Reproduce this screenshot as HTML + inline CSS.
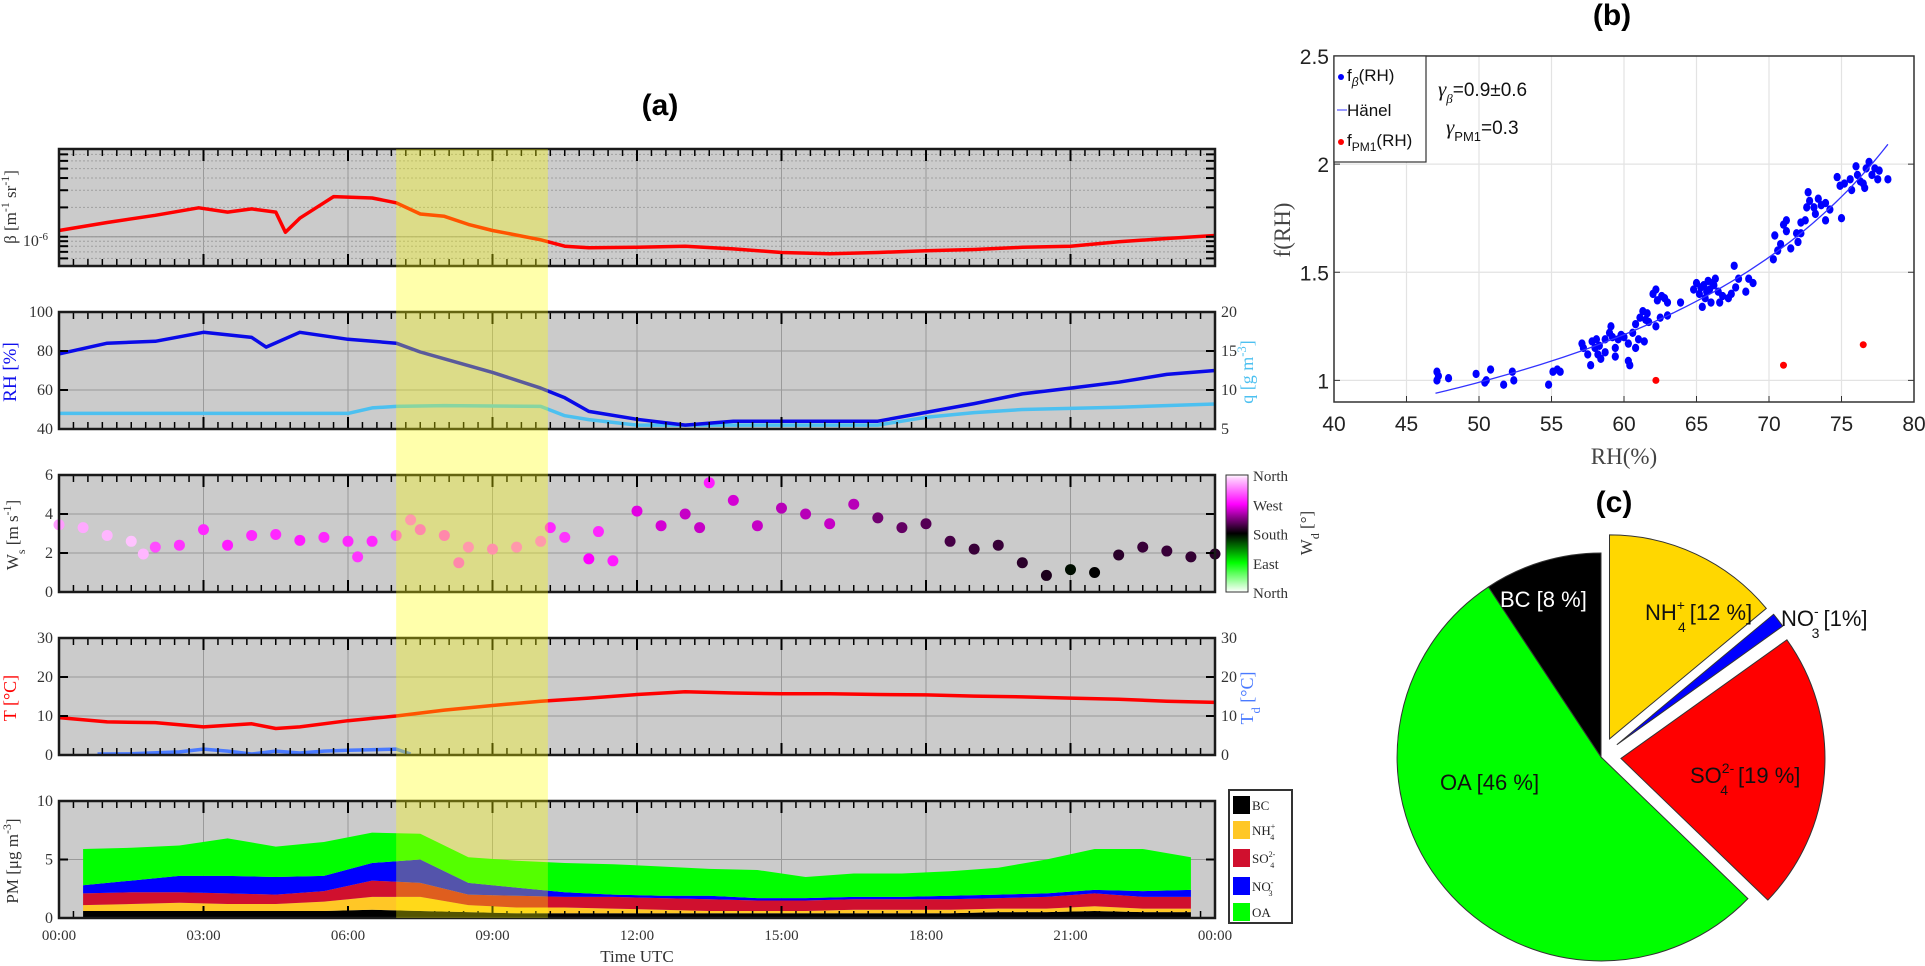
<!DOCTYPE html>
<html><head><meta charset="utf-8"><style>
html,body{margin:0;padding:0;background:#fff;}
svg{display:block;}
.serif{font-family:"Liberation Serif",serif;}
.sans{font-family:"Liberation Sans",sans-serif;}
</style></head><body>
<svg id="fig" width="1925" height="966" viewBox="0 0 1925 966" xmlns="http://www.w3.org/2000/svg">
<text x="660" y="115" text-anchor="middle" class="sans" font-weight="bold" font-size="30">(a)</text>
<text x="1612" y="25" text-anchor="middle" class="sans" font-weight="bold" font-size="30">(b)</text>
<text x="1614" y="512" text-anchor="middle" class="sans" font-weight="bold" font-size="30">(c)</text>
<g id="ga"></g>
<g id="gb"></g>
<g id="gc"></g>
</svg>
<script>
// ---- Panel (a) data ----
const betaHours=[0,1,2,2.9,3.5,4,4.5,4.7,5,5.5,5.7,6.5,7,7.5,8,8.5,9,9.5,10,10.5,11,12,13,14,15,16,17,18,19,20,21,22,23,24];
const betaVals=[1.16,1.40,1.66,1.98,1.79,1.93,1.79,1.11,1.55,2.23,2.58,2.50,2.23,1.71,1.62,1.34,1.16,1.04,0.93,0.80,0.77,0.78,0.80,0.75,0.69,0.67,0.69,0.72,0.74,0.78,0.80,0.89,0.96,1.03];
const rhHours=[0,1,2,3,4,4.3,5,6,7,7.5,8,9,10,10.5,11,12,13,14,15,16,17,18,19,20,21,22,23,24];
const rhVals=[78.5,84,85,89.6,87,82,89.6,86,84,79.5,76,69,61,56,49,45,42,44,44,44,44,48.5,53,58,61,64,68,70];
const qHours=[0,2,4,6,6.5,7,8,10,10.5,11,12,14,17,18,19,20,22,24];
const qVals=[7.0,7.0,7.0,7.0,7.7,7.9,8.0,7.9,6.7,6.2,5.5,5.5,5.5,6.5,7.1,7.5,7.8,8.2];
const wsHours=[0,0.5,1,1.5,1.75,2,2.5,3,3.5,4,4.5,5,5.5,6,6.2,6.5,7,7.3,7.5,8,8.3,8.5,9,9.5,10,10.2,10.5,11,11.2,11.5,12,12.5,13,13.3,13.5,14,14.5,15,15.5,16,16.5,17,17.5,18,18.5,19,19.5,20,20.5,21,21.5,22,22.5,23,23.5,24];
const wsVals=[3.45,3.3,2.9,2.6,1.95,2.3,2.4,3.2,2.4,2.9,2.95,2.65,2.8,2.6,1.8,2.6,2.9,3.7,3.2,2.9,1.5,2.3,2.2,2.3,2.6,3.3,2.8,1.7,3.1,1.6,4.15,3.4,4.0,3.3,5.6,4.7,3.4,4.3,4.0,3.5,4.5,3.8,3.3,3.5,2.6,2.2,2.4,1.5,0.85,1.15,1.0,1.9,2.3,2.1,1.8,1.95];
const wdVals=[330,335,340,345,340,300,290,285,280,285,285,280,285,285,290,285,300,310,300,300,300,310,305,310,310,285,290,270,285,280,260,255,250,250,280,255,250,245,245,250,245,220,215,210,205,200,200,195,190,175,180,195,200,200,198,195];
const tHours=[0,1,2,3,4,4.5,5,6,7,8,9,10,11,12,13,14,15,16,17,18,19,20,21,22,23,24];
const tVals=[9.6,8.5,8.3,7.2,8.0,6.8,7.2,8.8,10,11.5,12.7,13.8,14.6,15.5,16.2,15.9,15.7,15.7,15.5,15.4,15.1,14.9,14.6,14.3,13.8,13.5];
const tdHours=[0.8,1.5,2.5,3,3.5,4,4.5,5,5.5,6,7,7.3];
const tdVals=[0,0.3,0.8,1.5,1.0,0.2,1.0,0.5,1.0,1.2,1.5,0.2];
const pmHours=[0.5,1.5,2.5,3.5,4.5,5.5,6.5,7.5,8.5,9.5,10.5,11.5,12.5,13.5,14.5,15.5,16.5,17.5,18.5,19.5,20.5,21.5,22.5,23.5];
const pmBC=[0.6,0.6,0.6,0.6,0.6,0.6,0.7,0.6,0.5,0.4,0.4,0.4,0.4,0.4,0.4,0.4,0.4,0.4,0.4,0.5,0.5,0.6,0.5,0.5];
const pmNH4=[0.5,0.6,0.7,0.6,0.6,0.8,1.1,1.2,0.6,0.5,0.5,0.4,0.3,0.2,0.2,0.2,0.3,0.3,0.3,0.3,0.3,0.4,0.3,0.3];
const pmSO4=[1.0,1.0,0.9,0.9,0.8,0.9,1.4,1.2,0.9,1.0,0.9,1.0,1.0,1.0,0.9,0.9,0.9,0.9,0.9,0.9,1.0,1.1,1.0,1.0];
const pmNO3=[0.7,1.0,1.4,1.5,1.5,1.3,1.5,2.0,1.0,0.7,0.4,0.2,0.2,0.3,0.2,0.2,0.2,0.2,0.3,0.3,0.3,0.3,0.5,0.6];
const pmOA=[3.1,2.8,2.6,3.2,2.6,2.9,2.6,2.2,2.2,2.3,2.5,2.6,2.5,2.3,2.4,1.8,2.0,2.0,2.1,2.3,2.9,3.5,3.6,2.8];
const timeTicks=["00:00","03:00","06:00","09:00","12:00","15:00","18:00","21:00","00:00"];
const highlightStart=7.0, highlightEnd=10.15;
// ---- Panel (b) data ----
const scRH=[47.1,47.1,47.2,47.9,49.8,50.5,50.8,50.4,51.7,52.3,52.4,54.8,55.1,55.4,55.6,57.1,57.2,57.5,57.7,57.8,58.0,58.1,58.2,58.4,58.7,58.7,59.1,59.2,59.4,59.4,59.6,59.8,60.0,60.3,60.3,60.4,60.6,60.8,60.8,61.0,61.1,61.3,61.5,61.6,61.4,62.0,62.2,62.2,62.3,62.5,62.6,62.8,63.0,63.0,63.9,64.8,65.0,65.2,65.4,65.5,65.6,65.8,65.9,66.0,66.2,66.3,66.5,66.6,66.8,67.2,67.4,67.6,67.7,67.9,68.4,68.6,68.9,70.3,70.4,70.6,70.8,71.0,71.2,71.2,71.5,71.9,72.0,72.2,72.2,72.5,72.6,72.7,72.8,73.1,73.2,73.4,73.6,73.9,73.9,74.2,74.7,74.9,75.0,75.2,75.6,75.7,76.0,76.1,76.3,76.5,76.6,76.7,76.9,77.3,77.1,77.6,77.5,78.2,65.3,65.7,66.1,58.3,59.0,61.7];
const scF=[1.0,1.04,1.02,1.01,1.03,1.0,1.05,0.99,0.98,1.04,1.0,0.98,1.04,1.05,1.04,1.17,1.15,1.12,1.07,1.18,1.15,1.19,1.12,1.1,1.19,1.13,1.25,1.2,1.15,1.11,1.19,1.21,1.2,1.17,1.09,1.07,1.22,1.26,1.15,1.19,1.29,1.32,1.28,1.31,1.18,1.4,1.42,1.25,1.37,1.29,1.39,1.38,1.36,1.3,1.36,1.42,1.45,1.4,1.34,1.44,1.38,1.46,1.42,1.36,1.44,1.47,1.41,1.36,1.39,1.38,1.4,1.53,1.43,1.47,1.41,1.47,1.45,1.56,1.67,1.6,1.63,1.72,1.74,1.69,1.61,1.68,1.64,1.68,1.73,1.74,1.8,1.87,1.83,1.8,1.77,1.84,1.81,1.82,1.74,1.79,1.94,1.9,1.75,1.91,1.93,1.88,1.99,1.95,1.92,1.91,1.89,1.98,2.01,1.98,1.95,1.97,1.93,1.93,1.43,1.41,1.45,1.16,1.22,1.27];
const pmRH=[62.2,71.0,76.5];
const pmF=[1.0,1.07,1.165];
const gammaBeta=0.9, rhRef=50.5;
const xTicksB=[40,45,50,55,60,65,70,75,80];
const yTicksB=[1,1.5,2,2.5];
// ---- Panel (c) data ----
const pieLabels=["NH4","NO3","SO4","OA","BC"];
const pieValues=[12,1,19,46,8];

const NS="http://www.w3.org/2000/svg";
function mk(tag,attrs,parent){const e=document.createElementNS(NS,tag);for(const k in attrs)e.setAttribute(k,attrs[k]);parent.appendChild(e);return e;}
const ga=document.getElementById('ga'),gb=document.getElementById('gb'),gc=document.getElementById('gc');
const X0=59,X1=1215,PH=117;
const tops=[149,312,475,638,801];
const xT=h=>X0+h/24*(X1-X0);
function yLin(top,lo,hi){return v=>top+PH-(v-lo)/(hi-lo)*PH;}

function panelBg(top,name){
  const r=mk('rect',{x:X0,y:top,width:X1-X0,height:PH,fill:'#cbcbcb'},ga);
  
  
  for(let h=3;h<24;h+=3){mk('line',{x1:xT(h),x2:xT(h),y1:top,y2:top+PH,stroke:'#9a9a9a','stroke-width':1},ga);}
}
function hgrid(top,ys){ys.forEach(y=>mk('line',{x1:X0,x2:X1,y1:y,y2:y,stroke:'#9a9a9a','stroke-width':1},ga));}
function frame(top,leftTicks,rightTicks){
  const g=mk('g',{},ga);
  for(let i=0;i<=80;i++){const x=xT(i*0.3);const major=(i%10===0);const L=major?12:7;
    mk('line',{x1:x,x2:x,y1:top,y2:top+L,stroke:'#000','stroke-width':major?2:1.5},g);
    mk('line',{x1:x,x2:x,y1:top+PH,y2:top+PH-L,stroke:'#000','stroke-width':major?2:1.5},g);}
  (leftTicks||[]).forEach(y=>{mk('line',{x1:X0,x2:X0+9,y1:y,y2:y,stroke:'#000','stroke-width':2},g);});
  (rightTicks||[]).forEach(y=>{mk('line',{x1:X1,x2:X1-9,y1:y,y2:y,stroke:'#000','stroke-width':2},g);});
  mk('rect',{x:X0,y:top,width:X1-X0,height:PH,fill:'none',stroke:'#1a1a1a','stroke-width':2.5},g);
}
function txt(s,x,y,attrs,parent){const t=mk('text',Object.assign({x:x,y:y},attrs||{}),parent||ga);t.textContent=s;return t;}
function polyline(hs,vs,xf,yf,color,w,parent){let d='';hs.forEach((h,i)=>{d+=(i?'L':'M')+xf(h).toFixed(1)+','+yf(vs[i]).toFixed(1);});return mk('path',{d:d,fill:'none',stroke:color,'stroke-width':w,'stroke-linejoin':'round'},parent||ga);}
function rotLabel(parts,x,y,parent,color,size){
  const t=mk('text',{x:0,y:0,transform:`translate(${x},${y}) rotate(-90)`,'text-anchor':'middle',class:'serif','font-size':size||16,fill:color||'#333'},parent||ga);
  parts.forEach(p=>{const s=mk('tspan',p.sup?{'baseline-shift':'super','font-size':(size||16)*0.7}:(p.sub?{'baseline-shift':'sub','font-size':(size||16)*0.7}:{}),t);s.textContent=p.t;});
  return t;
}
const TF=16;

// Panel 1: beta (log)
{const top=tops[0];panelBg(top,'beta-panel');
 const lTop=-5.1,lBot=-6.3;const yf=v=>top+(lTop-Math.log10(v*1e-6))/(lTop-lBot)*PH;
 const minors=[];for(let e=-7;e<=-5;e++)for(let k=1;k<10;k++){const l=e+Math.log10(k);if(l<lTop&&l>lBot)minors.push(top+(lTop-l)/(lTop-lBot)*PH);}
 minors.forEach(y=>mk('line',{x1:X0,x2:X1,y1:y,y2:y,stroke:'#a0a0a0','stroke-width':1,'stroke-dasharray':'2,2'},ga));
 const y6=yf(1);mk('line',{x1:X0,x2:X1,y1:y6,y2:y6,stroke:'#9a9a9a','stroke-width':1.2},ga);
 const ln=polyline(betaHours,betaVals,xT,yf,'#ff0000',3.5);
 
 
 frame(top,minors,minors);
 const t=txt('10',48,y6+9,{class:'serif','font-size':TF,'text-anchor':'end',fill:'#333'});const s=mk('tspan',{'baseline-shift':'super','font-size':11},t);s.textContent='-6';
 
 
 const lab=rotLabel([{t:'β [m'},{t:'-1',sup:1},{t:' sr'},{t:'-1',sup:1},{t:']'}],16,top+58,ga,'#333',17);
 
 
}
// Panel 2: RH & q
{const top=tops[1];panelBg(top,'rh-panel');const yR=yLin(top,40,100),yQ=yLin(top,5,20);
 hgrid(top,[yR(60),yR(80)]);
 const l2=polyline(qHours,qVals,xT,yQ,'#4cc0f0',3.5);
 
 
 const l1=polyline(rhHours,rhVals,xT,yR,'#0a0ae8',3.5);
 
 
 frame(top,[yR(60),yR(80)],[yQ(10),yQ(15)]);
 [40,60,80,100].forEach(v=>txt(String(v),53,yR(v)+5,{class:'serif','font-size':TF,'text-anchor':'end',fill:'#333'}));
 [5,10,15,20].forEach(v=>txt(String(v),X1+6,yQ(v)+5,{class:'serif','font-size':TF,fill:'#333'}));
 const a=rotLabel([{t:'RH [%]'}],16,top+60,ga,'#1010ee',19);
 const b=rotLabel([{t:'q [g m'},{t:'-3',sup:1},{t:']'}],1253,top+60,ga,'#4cc0f0',18);
}
// Panel 3: wind
function wdColor(d){d=((d%360)+360)%360;let r,g,b;
 if(d>=180){if(d<=270){const t=(d-180)/90;r=255*t;g=0;b=255*t;}else{const t=(d-270)/90;r=255;g=235*t;b=255;}}
 else{if(d>=90){const t=(180-d)/90;r=0;g=255*t;b=0;}else{const t=(90-d)/90;r=255*t;g=255;b=255*t;}}
 return `rgb(${r|0},${g|0},${b|0})`;}
{const top=tops[2];panelBg(top,'wind-panel');const yW=yLin(top,0,6);hgrid(top,[yW(2),yW(4)]);
 wsHours.forEach((h,i)=>{const c=mk('circle',{cx:xT(h),cy:yW(wsVals[i]),r:5.5,fill:wdColor(wdVals[i])},ga);
  
  });
 frame(top,[yW(2),yW(4)],[yW(2),yW(4)]);
 [0,2,4,6].forEach(v=>txt(String(v),53,yW(v)+5,{class:'serif','font-size':TF,'text-anchor':'end',fill:'#333'}));
 const a=rotLabel([{t:'W'},{t:'s',sub:1},{t:' [m s'},{t:'-1',sup:1},{t:']'}],18,top+60,ga,'#333',17);
 const defs=mk('defs',{},ga);const lg=mk('linearGradient',{id:'cb',x1:0,y1:1,x2:0,y2:0},defs);
 for(let i=0;i<=36;i++){mk('stop',{offset:(i/36).toFixed(3),'stop-color':wdColor(i*10)},lg);}
 const cb=mk('rect',{x:1226,y:top,width:22,height:PH,fill:'url(#cb)',stroke:'#333','stroke-width':1},ga);
 
 
 ['North','West','South','East','North'].forEach((s,i)=>txt(s,1253,top+6+i*PH/4,{class:'serif','font-size':15,fill:'#333'}));
 const b=rotLabel([{t:'W'},{t:'d',sub:1},{t:' [°]'}],1312,top+58,ga,'#333',17);
}
// Panel 4: T & Td
{const top=tops[3];panelBg(top,'temperature-panel');const yT=yLin(top,0,30);hgrid(top,[yT(10),yT(20)]);
 const l1=polyline(tdHours,tdVals,xT,v=>Math.min(yT(v),top+PH-1),'#4a7aff',3.5);
 
 
 const l2=polyline(tHours,tVals,xT,yT,'#ff0000',3.5);
 
 
 frame(top,[yT(10),yT(20)],[yT(10),yT(20)]);
 [0,10,20,30].forEach(v=>{txt(String(v),53,yT(v)+5,{class:'serif','font-size':TF,'text-anchor':'end',fill:'#333'});txt(String(v),X1+6,yT(v)+5,{class:'serif','font-size':TF,fill:'#333'});});
 const a=rotLabel([{t:'T [°C]'}],16,top+60,ga,'#ff0000',18);
 const b=rotLabel([{t:'T'},{t:'d',sub:1},{t:' [°C]'}],1253,top+60,ga,'#4a7aff',18);
}
// Panel 5: PM stacked
{const top=tops[4];panelBg(top,'pm-panel');const yP=yLin(top,0,10);hgrid(top,[yP(5)]);
 const layers=[pmBC,pmNH4,pmSO4,pmNO3,pmOA];const cols=['#000000','#ffc726','#d0102e','#0000ff','#00ff00'];const names=['BC','NH4','SO4','NO3','OA'];
 const cum=pmHours.map(()=>0);
 layers.forEach((L,k)=>{const lo=cum.slice();L.forEach((v,i)=>cum[i]+=v);
  let d='M'+xT(pmHours[0])+','+yP(lo[0]);pmHours.forEach((h,i)=>d+='L'+xT(h).toFixed(1)+','+yP(cum[i]).toFixed(1));
  for(let i=pmHours.length-1;i>=0;i--)d+='L'+xT(pmHours[i]).toFixed(1)+','+yP(lo[i]).toFixed(1);
  const p=mk('path',{d:d+'Z',fill:cols[k]},ga);
  
  });
 frame(top,[yP(5)],[yP(5)]);
 [0,5,10].forEach(v=>txt(String(v),53,yP(v)+5,{class:'serif','font-size':TF,'text-anchor':'end',fill:'#333'}));
 timeTicks.forEach((s,i)=>{const t=txt(s,xT(i*3),940,{class:'serif','font-size':15,'text-anchor':'middle',fill:'#333'});});
 const tu=txt('Time UTC',xT(12),962,{class:'serif','font-size':17,'text-anchor':'middle',fill:'#333'});
 
 
 const a=rotLabel([{t:'PM [μg m'},{t:'-3',sup:1},{t:']'}],18,top+60,ga,'#333',17);
 const lg=mk('g',{},ga);
 mk('rect',{x:1229,y:790,width:63,height:133,fill:'#fff',stroke:'#333','stroke-width':2},lg);
 const legTxt=[['BC','',''],['NH','+','4'],['SO','2-','4'],['NO','-','3'],['OA','','']];
 const ly=[805,830,858,886,912];
 legTxt.forEach((e,i)=>{mk('rect',{x:1233,y:ly[i]-9,width:17,height:18,fill:cols[i]},lg);
  const t=txt(e[0],1252,ly[i]+5,{class:'serif','font-size':13,fill:'#222'},lg);
  if(e[1]){const s=mk('tspan',{'font-size':8,dy:-6},t);s.textContent=e[1];const s2=mk('tspan',{'font-size':8,dx:-5,dy:11},t);s2.textContent=e[2];}});
}
// highlight band
{const r=mk('rect',{x:xT(highlightStart),y:149,width:xT(highlightEnd)-xT(highlightStart),height:918-149,fill:'rgba(255,255,0,0.33)'},ga);
 
 }

// ---- Panel (b) ----
{const L=1334,R=1914,T=56,B=402;const xf=v=>L+(v-40)/40*(R-L);const yf=v=>B-(v-0.9)/1.6*(B-T);
 mk('rect',{x:L,y:T,width:R-L,height:B-T,fill:'#fff'},gb);
 xTicksB.forEach(v=>{mk('line',{x1:xf(v),x2:xf(v),y1:T,y2:B,stroke:'#e3e3e3','stroke-width':1.2},gb);
   mk('line',{x1:xf(v),x2:xf(v),y1:B,y2:B-6,stroke:'#333'},gb);
   const t=txt(String(v),xf(v),431,{class:'sans','font-size':21,'text-anchor':'middle',fill:'#222'},gb);});
 yTicksB.forEach(v=>{mk('line',{x1:L,x2:R,y1:yf(v),y2:yf(v),stroke:'#e3e3e3','stroke-width':1.2},gb);
   mk('line',{x1:L,x2:L+6,y1:yf(v),y2:yf(v),stroke:'#333'},gb);mk('line',{x1:R,x2:R-6,y1:yf(v),y2:yf(v),stroke:'#333'},gb);
   const t=txt(String(v),L-5,yf(v)+8,{class:'sans','font-size':21,'text-anchor':'end',fill:'#222'},gb);});
 scRH.forEach((v,i)=>{const c=mk('ellipse',{cx:xf(v),cy:yf(scF[i]),rx:3.6,ry:4.2,fill:'#0000ff'},gb);
   
   });
 let d='';for(let rh=47;rh<=78.21;rh+=0.4){const f=Math.pow((1-rhRef/100)/(1-rh/100),gammaBeta);d+=(d?'L':'M')+xf(rh).toFixed(1)+','+yf(f).toFixed(1);}
 const cv=mk('path',{d:d,fill:'none',stroke:'#3333ff','stroke-width':1.3},gb);
 
 
 pmRH.forEach((v,i)=>{const c=mk('circle',{cx:xf(v),cy:yf(pmF[i]),r:3.5,fill:'#ff0000'},gb);
   
   });
 mk('rect',{x:L,y:T,width:R-L,height:B-T,fill:'none',stroke:'#333','stroke-width':1.5},gb);
 const lg=mk('g',{},gb);
 mk('rect',{x:L,y:T,width:92,height:106,fill:'#fff',stroke:'#333','stroke-width':1.2},lg);
 mk('circle',{cx:L+7,cy:T+21,r:3,fill:'#0000ff'},lg);
 let t=txt('f',L+13,T+25,{class:'sans','font-size':17,fill:'#111'},lg);let s=mk('tspan',{'font-size':12,dy:5,'font-style':'italic'},t);s.textContent='β';s=mk('tspan',{dy:-5},t);s.textContent='(RH)';
 mk('line',{x1:L+3,x2:L+13,y1:T+54,y2:T+54,stroke:'#3333ff'},lg);
 txt('Hänel',L+13,T+60,{class:'sans','font-size':17,fill:'#111'},lg);
 mk('circle',{cx:L+7,cy:T+86,r:3,fill:'#ff0000'},lg);
 t=txt('f',L+13,T+90,{class:'sans','font-size':17,fill:'#111'},lg);s=mk('tspan',{'font-size':12,dy:5},t);s.textContent='PM1';s=mk('tspan',{dy:-5},t);s.textContent='(RH)';
 t=txt('γ',1438,T+40,{class:'serif','font-size':21,'font-style':'italic',fill:'#111'},gb);s=mk('tspan',{'font-size':13,dy:7,'font-style':'italic'},t);s.textContent='β';s=mk('tspan',{dy:-7,class:'sans','font-style':'normal','font-size':19},t);s.textContent='=0.9±0.6';
 
 t=txt('γ',1446,T+78,{class:'serif','font-size':21,'font-style':'italic',fill:'#111'},gb);s=mk('tspan',{'font-size':13,dy:7,'font-style':'normal',class:'sans'},t);s.textContent='PM1';s=mk('tspan',{dy:-7,class:'sans','font-style':'normal','font-size':19},t);s.textContent='=0.3';
 
 t=txt('RH(%)',(L+R)/2,464,{class:'serif','font-size':23,'text-anchor':'middle',fill:'#444'},gb);
 t=mk('text',{x:0,y:0,transform:'translate(1290,230) rotate(-90)','text-anchor':'middle',class:'serif','font-size':23,fill:'#444'},gb);t.textContent='f(RH)';
}

// ---- Panel (c) pie ----
{const cx=1601,cy=757,R=204;const total=pieValues.reduce((a,b)=>a+b,0);
 const cols={NH4:'#ffd700',NO3:'#0000ff',SO4:'#ff0000',OA:'#00ff00',BC:'#000000'};
 const explode={NH4:20,NO3:20,SO4:20,OA:0,BC:0};
 let a0=0;
 pieLabels.forEach((lab,i)=>{const a1=a0+pieValues[i]/total*2*Math.PI;const am=(a0+a1)/2;
  const ox=explode[lab]*Math.sin(am),oy=-explode[lab]*Math.cos(am);const X=cx+ox,Y=cy+oy;
  const p1=[X+R*Math.sin(a0),Y-R*Math.cos(a0)],p2=[X+R*Math.sin(a1),Y-R*Math.cos(a1)];
  const large=(a1-a0)>Math.PI?1:0;
  const p=mk('path',{d:`M${X},${Y}L${p1[0].toFixed(1)},${p1[1].toFixed(1)}A${R},${R} 0 ${large} 1 ${p2[0].toFixed(1)},${p2[1].toFixed(1)}Z`,fill:cols[lab],stroke:'#333','stroke-width':1},gc);
  
  
  a0=a1;});
 function lbl(x,y,base,sup,sub,rest,color,name){const t=txt(base,x,y,{class:'sans','font-size':22,fill:color},gc);
  if(sup){const w=sup.length*7;let s=mk('tspan',{'font-size':14,dy:-10},t);s.textContent=sup;s=mk('tspan',{'font-size':14,dx:-w,dy:22},t);s.textContent=sub;s=mk('tspan',{dx:Math.max(0,w-8)+4,dy:-12},t);s.textContent=rest;}
  }
 lbl(1500,607,'BC [8 %]','','','','#fff','bc-label');
 lbl(1645,620,'NH','+','4','[12 %]','#111','nh4-label');
 lbl(1781,626,'NO','-','3','[1%]','#111','no3-label');
 lbl(1690,783,'SO','2-','4','[19 %]','#111','so4-label');
 lbl(1440,790,'OA [46 %]','','','','#111','oa-label');
}
</script>
</body></html>
